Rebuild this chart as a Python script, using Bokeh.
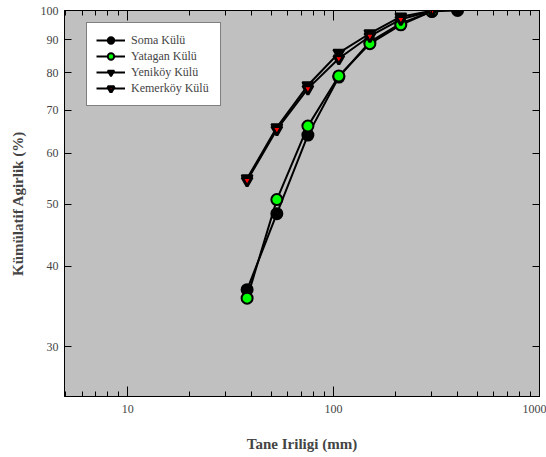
from bokeh.plotting import figure
from bokeh.models import (LogAxis, FixedTicker, LogTicker, Legend, LegendItem,
                          CustomJSTickFormatter, PrintfTickFormatter)
from bokeh.embed import file_html
from bokeh.resources import INLINE

# ---- data ----
sizes = [38, 53, 75, 106, 150, 212, 300, 400]
soma = [36.8, 48.3, 64.0, 78.8, 89.4, 95.5, 99.7, 100.0]
yatagan = [35.7, 50.8, 66.1, 79.1, 88.8, 95.0, 99.7]
yenikoy = [54.8, 65.8, 76.5, 85.9, 92.1, 97.8, 99.9]
kemerkoy = [54.4, 65.3, 75.6, 84.2, 91.2, 96.9, 99.8]
y_ticks = [30, 40, 50, 60, 70, 80, 90, 100]

FONT = "Liberation Serif"

p = figure(width=546, height=457, x_axis_type="log", y_axis_type="log",
           x_range=(4.93, 1000), y_range=(25.1, 100),
           output_backend="svg", toolbar_location=None,
           min_border_left=64, min_border_right=7, min_border_top=10,
           min_border_bottom=61)

p.background_fill_color = "#C0C0C0"
p.border_fill_color = "white"
p.outline_line_color = "black"
p.outline_line_width = 1
p.xgrid.visible = False
p.ygrid.visible = False

# x axis
xa = p.xaxis[0]
xa.ticker = LogTicker(num_minor_ticks=10)
xa.major_tick_in = 10
xa.major_tick_out = 0
xa.minor_tick_in = 5
xa.minor_tick_out = 0
xa.axis_label = "Tane Iriligi (mm)"
xa.axis_label_text_font = FONT
xa.axis_label_text_font_style = "bold"
xa.axis_label_text_font_size = "15px"
xa.axis_label_standoff = 20
xa.major_label_text_font = FONT
xa.major_label_text_font_size = "12px"
xa.major_label_standoff = 8
xa.formatter = PrintfTickFormatter(format="%d")
xa.axis_line_color = "black"

# y axis
ya = p.yaxis[0]
ya.ticker = FixedTicker(ticks=y_ticks, minor_ticks=[])
ya.major_tick_in = 7
ya.major_tick_out = 0
ya.minor_tick_in = 0
ya.minor_tick_out = 0
ya.axis_label = "Kümülatif Agirlik (%)"
ya.axis_label_text_font = FONT
ya.axis_label_text_font_style = "bold"
ya.axis_label_text_font_size = "15px"
ya.axis_label_standoff = 12
ya.major_label_text_font = FONT
ya.major_label_text_font_size = "12px"
ya.major_label_standoff = 6
ya.formatter = PrintfTickFormatter(format="%d")

blank = CustomJSTickFormatter(code="return ''")

top = LogAxis(ticker=LogTicker(num_minor_ticks=10), formatter=blank,
              major_tick_in=10, major_tick_out=0, minor_tick_in=5, minor_tick_out=0,
              major_label_standoff=0, major_label_text_font_size="1px")
p.add_layout(top, "above")
right = LogAxis(ticker=FixedTicker(ticks=y_ticks, minor_ticks=[]), formatter=blank,
                major_tick_in=7, major_tick_out=0, minor_tick_in=0, minor_tick_out=0,
                major_label_standoff=0, major_label_text_font_size="1px")
p.add_layout(right, "right")

items = []

def series(xs, ys, label, marker, fill, size, lw):
    n = len(ys)
    l = p.line(xs[:n], ys, line_color="black", line_width=2)
    s = p.scatter(xs[:n], ys, marker=marker, size=size, fill_color=fill,
                  line_color="black", line_width=lw)
    items.append(LegendItem(label=label, renderers=[l, s]))

series(sizes, soma, "Soma Külü", "circle", "black", 11, 2)
series(sizes, yatagan, "Yatagan Külü", "circle", "#00FF00", 11, 2)
series(sizes, yenikoy, "Yeniköy Külü", "inverted_triangle", "black", 11, 2)
series(sizes, kemerkoy, "Kemerköy Külü", "inverted_triangle", "#FF0000", 10, 3)

legend = Legend(items=items, location=(22, 290), orientation="vertical")
legend.label_text_font = FONT
legend.label_text_font_size = "12px"
legend.glyph_width = 29
legend.glyph_height = 16
legend.spacing = 0
legend.padding = 9
legend.margin = 0
legend.label_standoff = 6
legend.label_width = 80
legend.label_height = 16
legend.border_line_color = "black"
legend.border_line_width = 1
legend.background_fill_color = "white"
legend.background_fill_alpha = 1
p.add_layout(legend, "center")

open("out.html", "w").write(file_html(p, INLINE))
